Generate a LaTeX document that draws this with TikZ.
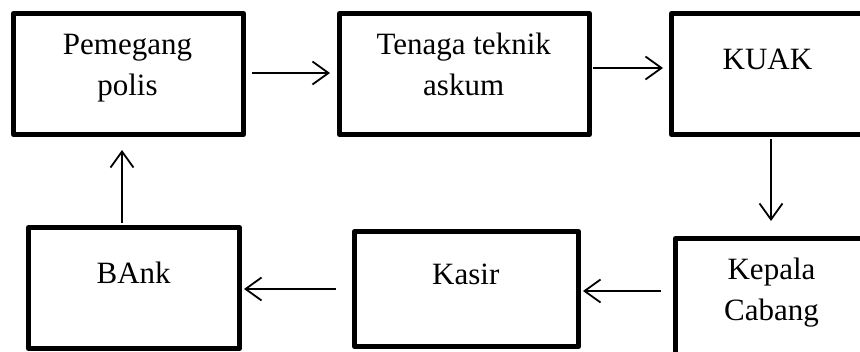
\documentclass[tikz,border=0pt]{standalone}
\usepackage{fontspec}
\setmainfont{Liberation Serif}
\usetikzlibrary{arrows.meta}
\begin{document}
\begin{tikzpicture}[x=1pt,y=-1pt,
  box/.style={draw=black, line width=5pt, line join=round, rectangle, inner sep=0pt},
  lbl/.style={anchor=base, inner sep=0pt, font=\fontsize{31}{41}\selectfont},
  arr/.style={line width=1.8pt, -{Straight Barb[length=16pt,width=23pt,line width=1.8pt]}}]
\useasboundingbox (0,0) rectangle (860,352);
\clip (0,0) rectangle (860,352);
\fill[white] (0,0) rectangle (860,352);
% boxes
\node[box, minimum width=230pt, minimum height=121pt] (b1) at (128.5,74) {};
\node[box, minimum width=250pt, minimum height=121pt] (b2) at (464.5,74) {};
\node[box, minimum width=192pt, minimum height=121pt] (b3) at (767.5,74) {};
\node[box, minimum width=192pt, minimum height=117pt] (b4) at (771.5,297) {};
\node[box, minimum width=224pt, minimum height=115pt] (b5) at (466.5,289) {};
\node[box, minimum width=211pt, minimum height=121pt] (b6) at (134,288) {};
% labels
\node[lbl] (t1a) at (127.5,55) {Pemegang};
\node[lbl] (t1b) at (127.5,96) {polis};
\node[lbl] (t2a) at (463.7,55) {Tenaga teknik};
\node[lbl] (t2b) at (463.7,96) {askum};
\node[lbl] (t3) at (767.5,70) {KUAK};
\node[lbl] (t4a) at (771.5,279.5) {Kepala};
\node[lbl] (t4b) at (771.5,320.5) {Cabang};
\node[lbl] (t5) at (465.8,284.3) {Kasir};
\node[lbl] (t6) at (133.7,283.3) {BAnk};
% connectors
\draw[arr] ([xshift=6pt,yshift=1pt]b1.east) -- ([xshift=-7pt,yshift=1pt]b2.west);
\draw[arr] ([xshift=0.5pt,yshift=6pt]b2.east) -- ([xshift=-6pt,yshift=6pt]b3.west);
\draw[arr] ([xshift=3.5pt,yshift=-2pt]b3.south) -- ([xshift=-0.5pt,yshift=15pt]b4.north);
\draw[arr] ([xshift=-12pt,yshift=6pt]b4.west) -- ([xshift=2pt,yshift=-2pt]b5.east);
\draw[arr] ([xshift=-16pt]b5.west) -- ([xshift=2pt,yshift=-1pt]b6.east);
\draw[arr] ([xshift=-12pt,yshift=2pt]b6.north) -- ([xshift=-6.5pt,yshift=-13pt]b1.south);
\end{tikzpicture}
\end{document}
